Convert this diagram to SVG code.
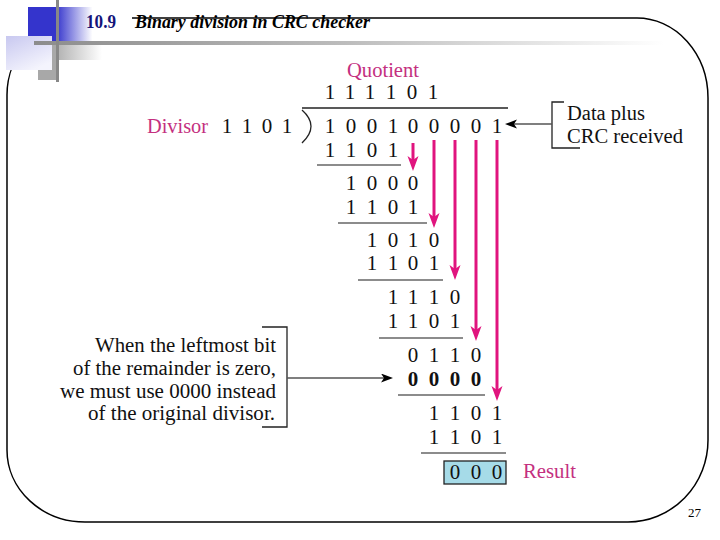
<svg xmlns="http://www.w3.org/2000/svg" width="720" height="540" viewBox="0 0 720 540">
<style>
.t{font-family:"Liberation Serif","Times New Roman",serif;font-size:20px;fill:#111}
.d{font-family:"Liberation Serif","Times New Roman",serif;font-size:21px;fill:#111;text-anchor:middle}
.b{font-weight:bold}
.m{fill:#c4307f}
.rule{stroke:#666;stroke-width:1.5;fill:none}
.pink{stroke:#e0147e;stroke-width:3;fill:none;marker-end:url(#pk)}
.gray{stroke:#555;stroke-width:1.5;fill:none;marker-end:url(#bk)}
.brk{stroke:#222;stroke-width:1.3;fill:none}
</style>
<defs>
<marker id="pk" markerUnits="userSpaceOnUse" markerWidth="16" markerHeight="12" refX="4" refY="5.5" orient="auto"><path d="M0,0 L15,5.5 L0,11 L4,5.5 Z" fill="#e0147e"/></marker>
<marker id="bk" markerUnits="userSpaceOnUse" markerWidth="13" markerHeight="10" refX="3" refY="4.5" orient="auto"><path d="M0,0 L12,4.5 L0,9 L3,4.5 Z" fill="#000"/></marker>
<linearGradient id="gBlue" x1="0" y1="0" x2="1" y2="0"><stop offset="0" stop-color="#3434cc"/><stop offset="0.27" stop-color="#3434cc"/><stop offset="0.62" stop-color="#fff"/><stop offset="1" stop-color="#fff"/></linearGradient>
<linearGradient id="gLav" x1="0" y1="0" x2="0.6" y2="1"><stop offset="0" stop-color="#c8c8f0"/><stop offset="1" stop-color="#f4f4fd"/></linearGradient>
<linearGradient id="gGray" x1="0" y1="0" x2="1" y2="0"><stop offset="0" stop-color="#b4b4b4"/><stop offset="1" stop-color="#fff"/></linearGradient>
<linearGradient id="gBar" x1="0" y1="0" x2="1" y2="0"><stop offset="0" stop-color="#8c8c8c"/><stop offset="0.5" stop-color="#bdbdbd"/><stop offset="1" stop-color="#fff"/></linearGradient>
</defs>

<g id="frame">
<path d="M84,18 H637 A71,80 0 0 1 708,98 V440 A80,82 0 0 1 628,522 H85 A78,72 0 0 1 7,450 V95 A77,77 0 0 1 84,18 Z" fill="none" stroke="#000" stroke-width="1.5"/>
</g>

<g id="decoration">
<rect x="28" y="7" width="104" height="34" fill="url(#gBlue)"/>
<rect x="38" y="45" width="20" height="35" fill="#a8a8a8"/>
<rect x="58" y="45" width="44" height="15" fill="url(#gGray)"/>
<rect x="6" y="36" width="46" height="34" fill="url(#gLav)"/>
<rect x="34" y="41" width="630" height="4" fill="url(#gBar)"/>
<rect x="56" y="0" width="3" height="82" fill="#888"/>
</g>

<g id="title">
<text x="86" y="28" font-family="'Liberation Serif',serif" font-size="18" font-weight="bold" fill="#14147a" textLength="30" lengthAdjust="spacingAndGlyphs">10.9</text>
<text x="135" y="28" font-family="'Liberation Serif',serif" font-size="18" font-weight="bold" font-style="italic" fill="#000" textLength="235" lengthAdjust="spacingAndGlyphs">Binary division in CRC checker</text>
</g>

<g id="quotient">
<text class="t m" x="347" y="77" textLength="72" lengthAdjust="spacingAndGlyphs">Quotient</text>
<text class="d" x="330" y="99">1</text><text class="d" x="350" y="99">1</text><text class="d" x="370" y="99">1</text><text class="d" x="391" y="99">1</text><text class="d" x="412" y="99">0</text><text class="d" x="433" y="99">1</text>
</g>

<g id="divisor">
<text class="t m" x="147" y="133" textLength="61" lengthAdjust="spacingAndGlyphs">Divisor</text>
<text class="d" x="227" y="133">1</text><text class="d" x="247" y="133">1</text><text class="d" x="267" y="133">0</text><text class="d" x="287" y="133">1</text>
</g>

<g id="dividend">
<path class="brk" d="M302,108 H508"/>
<path class="brk" d="M302,110 Q320,126 302,143"/>
<text class="d" x="330" y="133">1</text><text class="d" x="351" y="133">0</text><text class="d" x="372" y="133">0</text><text class="d" x="393" y="133">1</text><text class="d" x="413" y="133">0</text><text class="d" x="434" y="133">0</text><text class="d" x="455" y="133">0</text><text class="d" x="476" y="133">0</text><text class="d" x="497" y="133">1</text>
</g>

<g id="step1">
<text class="d" x="330" y="157">1</text><text class="d" x="351" y="157">1</text><text class="d" x="372" y="157">0</text><text class="d" x="393" y="157">1</text>
<line class="rule" x1="317" y1="165" x2="401" y2="165"/>
<text class="d" x="351" y="190">1</text><text class="d" x="372" y="190">0</text><text class="d" x="393" y="190">0</text><text class="d" x="413" y="190">0</text>
</g>

<g id="step2">
<text class="d" x="351" y="214">1</text><text class="d" x="372" y="214">1</text><text class="d" x="393" y="214">0</text><text class="d" x="413" y="214">1</text>
<line class="rule" x1="338" y1="223" x2="427" y2="223"/>
<text class="d" x="372" y="247">1</text><text class="d" x="393" y="247">0</text><text class="d" x="413" y="247">1</text><text class="d" x="434" y="247">0</text>
</g>

<g id="step3">
<text class="d" x="372" y="270">1</text><text class="d" x="393" y="270">1</text><text class="d" x="413" y="270">0</text><text class="d" x="434" y="270">1</text>
<line class="rule" x1="358" y1="280" x2="443" y2="280"/>
<text class="d" x="393" y="304">1</text><text class="d" x="413" y="304">1</text><text class="d" x="434" y="304">1</text><text class="d" x="455" y="304">0</text>
</g>

<g id="step4">
<text class="d" x="393" y="328">1</text><text class="d" x="413" y="328">1</text><text class="d" x="434" y="328">0</text><text class="d" x="455" y="328">1</text>
<line class="rule" x1="379" y1="338" x2="463" y2="338"/>
<text class="d" x="413" y="362">0</text><text class="d" x="434" y="362">1</text><text class="d" x="455" y="362">1</text><text class="d" x="476" y="362">0</text>
</g>

<g id="step5">
<text class="d b" x="413" y="386">0</text><text class="d b" x="434" y="386">0</text><text class="d b" x="455" y="386">0</text><text class="d b" x="476" y="386">0</text>
<line class="rule" x1="398" y1="395" x2="485" y2="395"/>
<text class="d" x="434" y="420">1</text><text class="d" x="455" y="420">1</text><text class="d" x="476" y="420">0</text><text class="d" x="497" y="420">1</text>
</g>

<g id="step6">
<text class="d" x="434" y="444">1</text><text class="d" x="455" y="444">1</text><text class="d" x="476" y="444">0</text><text class="d" x="497" y="444">1</text>
<line class="rule" x1="421" y1="453" x2="506" y2="453"/>
</g>

<g id="result">
<rect x="444" y="461" width="62" height="23" fill="#a6dbe8" stroke="#222" stroke-width="1.3"/>
<text class="d" x="455" y="479">0</text><text class="d" x="476" y="479">0</text><text class="d" x="497" y="479">0</text>
<text class="t m" x="523" y="478" textLength="53" lengthAdjust="spacingAndGlyphs">Result</text>
</g>

<g id="data-note">
<path class="brk" d="M564,102 H552 V148 H580"/>
<text class="t" x="567" y="120" textLength="78" lengthAdjust="spacingAndGlyphs">Data plus</text>
<text class="t" x="567" y="143" textLength="116" lengthAdjust="spacingAndGlyphs">CRC received</text>
</g>

<g id="zero-note">
<path class="brk" d="M262,327 H287 V427 H262"/>
<text class="t" x="95" y="352" textLength="181" lengthAdjust="spacingAndGlyphs">When the leftmost bit</text>
<text class="t" x="73" y="375" textLength="203" lengthAdjust="spacingAndGlyphs">of the remainder is zero,</text>
<text class="t" x="60" y="398" textLength="216" lengthAdjust="spacingAndGlyphs">we must use 0000 instead</text>
<text class="t" x="88" y="420" textLength="187" lengthAdjust="spacingAndGlyphs">of the original divisor.</text>
</g>

<g id="connectors">
<line class="pink" x1="413" y1="143" x2="413" y2="160"/>
<line class="pink" x1="434" y1="140" x2="434" y2="217"/>
<line class="pink" x1="455" y1="140" x2="455" y2="269"/>
<line class="pink" x1="476" y1="140" x2="476" y2="330"/>
<line class="pink" x1="497" y1="140" x2="497" y2="390"/>
<line class="gray" x1="552" y1="124" x2="514" y2="124"/>
<line class="gray" x1="287" y1="378" x2="384" y2="378"/>
</g>

<g id="page">
<text x="688" y="517" font-family="'Liberation Serif',serif" font-size="13" fill="#000">27</text>
</g>
</svg>
